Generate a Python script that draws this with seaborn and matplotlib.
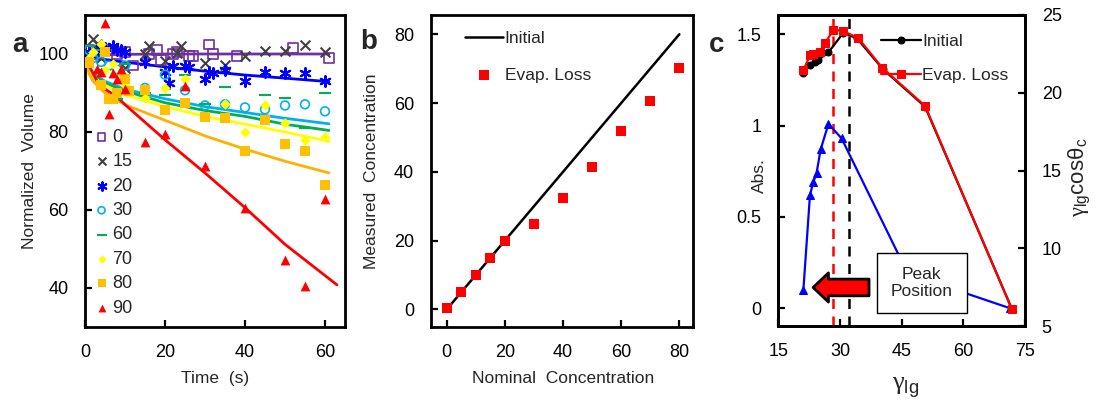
import numpy as np
import pandas as pd
import matplotlib
matplotlib.use("Agg")
import matplotlib.pyplot as plt
from matplotlib.patches import Rectangle, FancyArrowPatch
import seaborn as sns

# ---------------- panel a: normalized volume vs time ----------------
t0 = [1, 3, 6, 8, 10, 12, 16, 18, 19, 22, 23, 26, 27, 31, 32, 38, 52, 61]
v0 = [101, 100, 101, 100, 100.5, 97, 100, 101, 98.5, 100, 100.5, 99.5, 99.5, 102.5, 100, 99.5, 101.5, 99]
t15 = [2, 3, 4, 10, 15, 16, 20, 23, 24, 30, 35, 40, 45, 50, 55, 60]
v15 = [103.8, 102.5, 99, 96.5, 100, 102, 98.3, 100.2, 102, 97.6, 97.3, 99.6, 100.8, 100.8, 102.3, 100.4]
t20 = [1, 3, 5, 7, 8, 9, 10, 15, 20, 21, 22, 25, 26, 30, 31, 32, 35, 40, 45, 50, 55, 60]
v20 = [100.5, 101, 101.5, 102, 101, 101, 100.5, 98, 95.5, 92.5, 96.8, 96.8, 96.6, 93.5, 95.5, 95,
       95.8, 93, 95.3, 95.1, 95.1, 93.2]
t30 = [1, 2, 4, 6, 8, 10, 15, 20, 25, 30, 35, 40, 45, 50, 55, 60]
v30 = [101, 99, 98, 97, 96, 97, 91.3, 94.7, 90.7, 86.8, 87.1, 86.3, 85.8, 86.8, 87.1, 85.3]
t60 = [1, 3, 5, 8, 10, 15, 20, 25, 30, 35, 45, 50, 55, 60]
v60 = [102, 101, 96, 88.5, 97.5, 90, 89.4, 94.7, 87.3, 91.5, 89.4, 88.8, 81, 90.1]
t70 = [1, 2, 4, 5, 7, 9, 10, 15, 20, 25, 35, 40, 45, 50, 55, 60]
v70 = [99, 100.5, 102.5, 96, 97.5, 95, 92, 88.6, 91.3, 93.6, 87.1, 80, 87, 82.2, 78, 78.6]
t80 = [0.5, 1, 4, 5, 6, 7, 8, 10, 11, 15, 20, 25, 30, 35, 40, 45, 50, 55, 60]
v80 = [98, 97.6, 92, 100.4, 88.5, 88.5, 90, 93.6, 90.5, 90.7, 85.7, 87.5, 83.9, 83.6, 75.1, 83, 76.9, 75.1, 66.5]
t90 = [3, 4, 5, 6, 7, 8, 9, 10, 15, 20, 25, 30, 40, 50, 55, 60]
v90 = [96.2, 95.5, 108, 84.7, 95.2, 93.7, 96.2, 91.1, 77.5, 79.6, 91.9, 71.3, 60.6, 47.2, 40.5, 62.9]

# fitted curves
fit_t = [0, 1, 2, 5, 10, 20, 30, 40, 50, 61]
fit0 = [99.7, 99.7, 99.8, 99.8, 99.9, 100, 100, 100, 100, 100]
fit20 = [99.5, 99.3, 99.1, 98.6, 97.9, 96.7, 95.6, 94.6, 93.8, 92.9]
fit30 = [99, 96.5, 95, 93, 91, 88.5, 86.5, 85, 83.5, 82.1]
fit60 = [99, 96, 94.5, 92.5, 90.5, 87.5, 85.5, 84, 82, 80.4]
fit70 = [99, 95.8, 94, 92, 89.5, 86.5, 84, 82, 80, 77.6]
fit80 = [98.5, 95, 93, 90, 87, 83, 79, 75.6, 72.5, 69.5]
fit90_t = [1, 2, 3, 5, 8, 10, 20, 30, 40, 50, 63]
fit90 = [97, 95, 93, 91, 89, 87, 78, 69.5, 60.6, 51.2, 40.8]

# ---------------- panel b ----------------
nominal = [0, 5, 10, 15, 20, 30, 40, 50, 60, 70, 80]
measured = [0.3, 5.1, 10, 14.9, 19.9, 24.7, 32.4, 41.5, 51.9, 60.6, 70.3]
ideal = [0, 80]

# ---------------- panel c ----------------
g_init = [21.1, 22.7, 23.9, 24.7, 27.2, 30.8, 34.1, 40.5, 50.7, 71.8]
c_init = [21.3, 21.8, 22.0, 22.1, 22.6, 23.85, 23.5, 21.5, 19.1, 6.1]
g_evap = [21.1, 22.7, 23.5, 25.1, 26.4, 28.4, 30.8, 34.5, 40.3, 50.7, 71.8]
c_evap = [21.45, 22.4, 22.5, 22.6, 23.2, 24.05, 23.97, 23.5, 21.6, 19.15, 6.08]
g_abs = [21.1, 22.7, 23.5, 24.3, 25.3, 27.2, 30.4, 46.5, 71.4]
abs_val = [0.10, 0.62, 0.69, 0.74, 0.87, 1.01, 0.93, 0.19, 0.0]
peak_evap = 28.4
peak_init = 32.2

sns.set_style("ticks")
plt.rcParams["font.family"] = ["Liberation Sans", "DejaVu Sans"]
plt.rcParams["mathtext.fontset"] = "custom"
plt.rcParams["mathtext.rm"] = "Liberation Serif"
plt.rcParams["mathtext.it"] = "Liberation Sans:italic"

TICK = 13
LAB = 12.5

fig = plt.figure(figsize=(11.06, 4.03), dpi=100)
ax_a = fig.add_axes([0.0769, 0.1886, 0.235, 0.7742])
ax_b = fig.add_axes([0.3894, 0.1886, 0.2372, 0.7742])
ax_c = fig.add_axes([0.7037, 0.191, 0.2231, 0.7718])


def style_axes(ax):
    for sp in ax.spines.values():
        sp.set_linewidth(2)
        sp.set_color("black")
    ax.tick_params(direction="in", length=5, width=1.6, labelsize=TICK, pad=12, colors="black")


# ---- panel a ----
series = [
    ("0", t0, v0, "#7030A0", "s", True, 45),
    ("15", t15, v15, "#404040", "x", False, 50),
    ("20", t20, v20, "#0000FF", (6, 2, 0), False, 60),
    ("30", t30, v30, "#00B0F0", "o", True, 40),
    ("60", t60, v60, "#00B050", "_", False, 70),
    ("70", t70, v70, "#FFFF00", "D", False, 28),
    ("80", t80, v80, "#FFC000", "s", False, 50),
    ("90", t90, v90, "#FF0000", "^", False, 50),
]
fits = [
    (fit_t, fit0, "#7030A0"),
    (fit_t, fit20, "#0000FF"),
    (fit_t, fit30, "#00B0F0"),
    (fit_t, fit60, "#00B050"),
    (fit_t, fit70, "#FFFF00"),
    (fit_t, fit80, "#FFB000"),
    (fit90_t, fit90, "#FF0000"),
]
for ft, fv, col in fits:
    sns.lineplot(x=ft, y=fv, color=col, lw=2, ax=ax_a, legend=False)

for lab, tt, vv, col, mk, hollow, sz in series:
    if hollow:
        ax_a.scatter(tt, vv, s=sz, marker=mk, facecolors="none", edgecolors=col,
                     linewidths=1.2, label=lab, zorder=3)
    else:
        lw = 1.5 if mk in ("x", "_") or isinstance(mk, tuple) else 0
        sns.scatterplot(x=tt, y=vv, color=col, marker=mk, s=sz, linewidth=lw,
                        edgecolor=col, label=lab, ax=ax_a, zorder=3)

ax_a.set_xlim(0, 65)
ax_a.set_ylim(30, 110)
ax_a.set_xticks([0, 20, 40, 60])
ax_a.set_yticks([40, 60, 80, 100])
ax_a.set_xlabel("Time  (s)", fontsize=LAB)
ax_a.set_ylabel("Normalized  Volume", fontsize=LAB)
ax_a.xaxis.set_label_coords(0.5, -0.14)
ax_a.yaxis.set_label_coords(-0.185, 0.5)
style_axes(ax_a)
ax_a.legend(loc="upper left", bbox_to_anchor=(-0.02, 0.67), frameon=False, fontsize=TICK,
            handletextpad=0.0, labelspacing=0.41, borderaxespad=0.2, markerscale=0.8,
            handlelength=1.2)

# ---- panel b ----
sns.lineplot(x=ideal, y=ideal, color="black", lw=1.8, ax=ax_b, label="Initial")
sns.scatterplot(x=nominal, y=measured, color="#FF0000", marker="s", s=45, linewidth=0,
                ax=ax_b, label="Evap. Loss", zorder=3)
ax_b.set_xlim(-5.5, 84.7)
ax_b.set_ylim(-5.1, 85.6)
ax_b.set_xticks([0, 20, 40, 60, 80])
ax_b.set_yticks([0, 20, 40, 60, 80])
ax_b.set_xlabel("Nominal  Concentration", fontsize=LAB)
ax_b.set_ylabel("Measured  Concentration", fontsize=LAB)
ax_b.xaxis.set_label_coords(0.504, -0.142)
ax_b.yaxis.set_label_coords(-0.197, 0.5)
style_axes(ax_b)
ax_b.legend(loc="upper left", bbox_to_anchor=(0.07, 1.0), frameon=False, fontsize=LAB,
            handletextpad=0.1, labelspacing=1.25, handlelength=2.2)

# ---- panel c ----
ax_c2 = ax_c.twinx()
sns.lineplot(x=g_abs, y=abs_val, color="#0000FF", lw=1.6, marker="^", markersize=6,
             markeredgecolor="#0000FF", ax=ax_c, legend=False, sort=False)
ax_c.axvline(peak_evap, color="#FF0000", ls=(0, (4, 3)), lw=1.8, zorder=1)
ax_c.axvline(peak_init, color="black", ls=(0, (4, 3)), lw=1.8, zorder=1)

sns.lineplot(x=g_init, y=c_init, color="black", lw=1.6, marker="o", markersize=5,
             markeredgecolor="black", ax=ax_c2, label="Initial", sort=False)
sns.lineplot(x=g_evap, y=c_evap, color="#FF0000", lw=1.6, marker="s", markersize=6,
             markeredgecolor="#FF0000", ax=ax_c2, label="Evap. Loss", sort=False)

ax_c.set_xlim(15, 75)
ax_c.set_ylim(-0.097, 1.606)
ax_c.set_xticks([15, 30, 45, 60, 75])
ax_c.set_yticks([0, 0.5, 1, 1.5])
ax_c.set_yticklabels(["0", "0.5", "1", "1.5"])
ax_c2.set_ylim(5, 25)
ax_c2.set_yticks([5, 10, 15, 20, 25])
ax_c.set_xlabel(r"$\mathrm{\gamma}_{\mathregular{lg}}$", fontsize=19)
ax_c.set_ylabel("Abs.", fontsize=LAB)
ax_c2.set_ylabel(r"$\mathrm{\gamma}_{\mathregular{lg}}\mathregular{cos\theta_c}$", fontsize=16)
ax_c.xaxis.set_label_coords(0.514, -0.16)
ax_c.yaxis.set_label_coords(-0.045, 0.485)
ax_c2.yaxis.set_label_coords(1.17, 0.477)
style_axes(ax_c)
style_axes(ax_c2)
ax_c2.legend(loc="upper right", bbox_to_anchor=(0.995, 0.99), frameon=False, fontsize=LAB,
             handletextpad=0.05, labelspacing=1.1, handlelength=2.3)

# peak position box and arrow
ax_c2.add_patch(Rectangle((0.399, 0.042), 0.367, 0.193, transform=ax_c2.transAxes,
                          facecolor="white", edgecolor="black", lw=1, zorder=5))
ax_c2.text(0.582, 0.138, "Peak\nPosition", transform=ax_c2.transAxes, ha="center",
           va="center", fontsize=LAB, zorder=6, linespacing=1.2)
ax_c2.add_patch(FancyArrowPatch((0.379, 0.124), (0.13, 0.124), transform=ax_c2.transAxes,
                                arrowstyle="simple,head_length=11,head_width=21,tail_width=12",
                                mutation_scale=1, facecolor="#FF0000", edgecolor="black",
                                lw=2, zorder=6))

# panel letters
fig.text(0.018, 0.888, "a", fontsize=20, fontweight="bold", ha="center", va="center")
fig.text(0.333, 0.895, "b", fontsize=20, fontweight="bold", ha="center", va="center")
fig.text(0.648, 0.888, "c", fontsize=20, fontweight="bold", ha="center", va="center")

fig.savefig("out.png", dpi=100)
